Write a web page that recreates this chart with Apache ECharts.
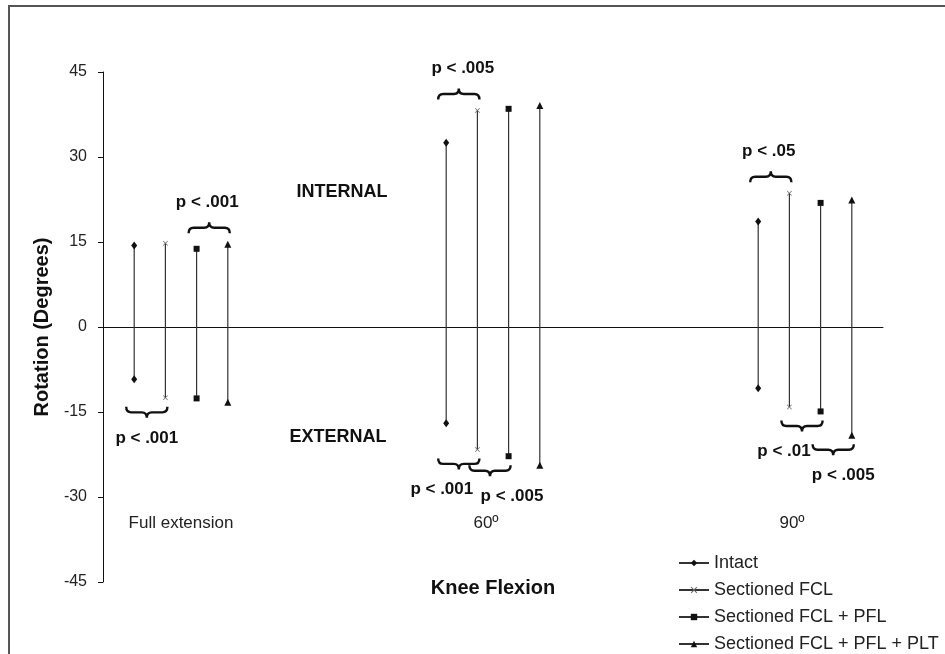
<!DOCTYPE html>
<html>
<head>
<meta charset="utf-8">
<script src="https://cdn.jsdelivr.net/npm/echarts@6/dist/echarts.min.js"></script>
<style>
html,body{margin:0;padding:0;background:#fff;}
#c{width:945px;height:654px;}
</style>
</head>
<body>
<div id="c"></div>
<script>
// ---------------- DATA ----------------
const categories = ['Full extension', '60º', '90º'];
const seriesNames = ['Intact', 'Sectioned FCL', 'Sectioned FCL + PFL', 'Sectioned FCL + PFL + PLT'];
const yTicks = [-45, -30, -15, 0, 15, 30, 45];

// internal (positive) and external (negative) rotation, degrees
const intactHigh = [14.4, 32.5, 18.6];
const intactLow  = [-9.2, -17.0, -10.8];
const fclHigh    = [14.8, 38.2, 23.6];
const fclLow     = [-12.5, -21.6, -14.1];
const pflHigh    = [13.8, 38.5, 21.9];
const pflLow     = [-12.6, -22.8, -14.9];
const pltHigh    = [14.6, 39.1, 22.4];
const pltLow     = [-13.3, -24.4, -19.1];

// significance brackets: group index, pair of series indices, side, label
const annGroup = [0, 0, 1, 1, 1, 2, 2, 2];
const annFrom  = [2, 0, 0, 0, 1, 0, 1, 2];
const annTo    = [3, 1, 1, 1, 2, 1, 2, 3];
const annSide  = ['top', 'bottom', 'top', 'bottom', 'bottom', 'top', 'bottom', 'bottom'];
const annText  = ['p < .001', 'p < .001', 'p < .005', 'p < .001', 'p < .005', 'p < .05', 'p < .01', 'p < .005'];

const regionLabels = ['INTERNAL', 'EXTERNAL'];

// ---------------- LAYOUT / STYLE ----------------
const annLabelShift = [-2, 0, 4, -17, 22, -2, -18, 10]; // px, keeps neighbouring labels apart
const catLabelPadRight = [0, 14, 26];                   // px, nudges category labels
const highs = [intactHigh, fclHigh, pflHigh, pltHigh];
const lows  = [intactLow, fclLow, pflLow, pltLow];
const FONT = '"Liberation Sans", Arial, Helvetica, sans-serif';
const BAR_STEP = 0.1;  // distance between the four ranges of a group (group units)
const X_MIN = -0.25, X_MAX = 2.25;
const symbols = [
  'diamond',
  'path://M0,1L1,0L5,4L9,0L10,1L6,5L10,9L9,10L5,6L1,10L0,9L4,5Z',
  'rect',
  'triangle'
];
const symbolSizes = [[6, 8], 5, 6, 7];
const markerColors = ['#111', '#666', '#111', '#111'];

function xOf(g, s) { return g + (s - 1.5) * BAR_STEP; }

const chart = echarts.init(document.getElementById('c'), null, { renderer: 'canvas' });

const lineSeries = seriesNames.map(function (name, s) {
  const data = [];
  for (let g = 0; g < categories.length; g++) {
    data.push([xOf(g, s), highs[s][g]]);
    data.push([xOf(g, s), lows[s][g]]);
    data.push([xOf(g, s), '-']);
  }
  return {
    type: 'line',
    name: name,
    data: data,
    xAxisIndex: 0,
    symbol: symbols[s],
    symbolSize: symbolSizes[s],
    showSymbol: true,
    showAllSymbol: true,
    connectNulls: false,
    color: '#222',
    lineStyle: { color: '#333', width: 1.2 },
    itemStyle: { color: markerColors[s] },
    emphasis: { disabled: true },
    z: 3
  };
});

const annotationSeries = {
  type: 'custom',
  name: 'annotations',
  xAxisIndex: 0,
  silent: true,
  z: 5,
  data: annGroup.map(function (g, i) { return [g, 0, i]; }),
  renderItem: function (params, api) {
    const i = params.dataIndex;
    const g = annGroup[i], a = annFrom[i], b = annTo[i];
    const top = annSide[i] === 'top';
    const dir = top ? -1 : 1;
    const xa = api.coord([xOf(g, a), 0])[0];
    const xb = api.coord([xOf(g, b), 0])[0];
    const vals = top ? [highs[a][g], highs[b][g]] : [lows[a][g], lows[b][g]];
    const ext = top ? Math.max(vals[0], vals[1]) : Math.min(vals[0], vals[1]);
    const yExt = api.coord([0, ext])[1];
    const gap = top ? 11 : 9;
    const H = 11;
    const y0 = yExt + dir * gap;
    const ym = y0 + dir * H / 2;
    const yc = y0 + dir * H;
    const xL = xa - 8, xR = xb + 2, xm = (xL + xR) / 2, r = 5;
    const d = 'M' + xL + ',' + y0 +
      ' Q' + xL + ',' + ym + ' ' + (xL + r) + ',' + ym +
      ' L' + (xm - r) + ',' + ym +
      ' Q' + xm + ',' + ym + ' ' + xm + ',' + yc +
      ' Q' + xm + ',' + ym + ' ' + (xm + r) + ',' + ym +
      ' L' + (xR - r) + ',' + ym +
      ' Q' + xR + ',' + ym + ' ' + xR + ',' + y0;
    return {
      type: 'group',
      children: [
        {
          type: 'path',
          shape: { pathData: d },
          style: { stroke: '#111', lineWidth: 2.4, fill: null }
        },
        {
          type: 'text',
          style: {
            text: annText[i],
            x: xm + annLabelShift[i],
            y: yc + dir * 20,
            align: 'center',
            verticalAlign: 'middle',
            font: 'bold 17px ' + FONT,
            fill: '#111'
          }
        }
      ]
    };
  }
};

const catRich = {};
categories.forEach(function (c, i) {
  catRich['c' + i] = { padding: [0, catLabelPadRight[i], 0, 0], fontFamily: FONT, fontSize: 17, color: '#222' };
});

const option = {
  backgroundColor: '#fff',
  animation: false,
  grid: { left: 103, right: 62, top: 72, bottom: 72, containLabel: false, outerBoundsMode: 'none' },
  xAxis: [
    {
      type: 'value',
      min: X_MIN,
      max: X_MAX,
      position: 'bottom',
      axisLine: { show: true, onZero: true, lineStyle: { color: '#111', width: 1 } },
      axisTick: { show: false },
      axisLabel: { show: false },
      splitLine: { show: false }
    },
    {
      type: 'value',
      min: X_MIN,
      max: X_MAX,
      position: 'bottom',
      offset: -75,
      axisLine: { show: false, onZero: false },
      axisTick: { show: false },
      splitLine: { show: false },
      axisLabel: {
        show: true,
        customValues: categories.map(function (c, i) { return i; }),
        formatter: function (v) {
          const i = Math.round(v);
          return categories[i] ? '{c' + i + '|' + categories[i] + '}' : '';
        },
        rich: catRich,
        margin: 8,
        fontFamily: FONT,
        fontSize: 17,
        color: '#222'
      },
      name: 'Knee Flexion',
      nameLocation: 'middle',
      nameGap: 71,
      nameTextStyle: { fontFamily: FONT, fontSize: 20, fontWeight: 'bold', color: '#111' }
    }
  ],
  yAxis: {
    type: 'value',
    min: yTicks[0],
    max: yTicks[yTicks.length - 1],
    interval: yTicks[1] - yTicks[0],
    axisLine: { show: true, onZero: false, lineStyle: { color: '#111', width: 1 } },
    axisTick: { show: true, inside: false, length: 5, lineStyle: { color: '#111' } },
    axisLabel: { margin: 16, fontFamily: FONT, fontSize: 16, color: '#222' },
    splitLine: { show: false },
    name: 'Rotation (Degrees)',
    nameLocation: 'middle',
    nameRotate: 90,
    nameGap: 51,
    nameTextStyle: { fontFamily: FONT, fontSize: 20, fontWeight: 'bold', color: '#111' }
  },
  legend: {
    data: seriesNames,
    orient: 'vertical',
    left: 678,
    top: 554,
    height: 200,
    padding: 0,
    itemWidth: 30,
    itemHeight: 8,
    itemGap: 9,
    selectedMode: false,
    textStyle: { fontFamily: FONT, fontSize: 18, color: '#222' }
  },
  graphic: [
    {
      type: 'rect',
      shape: { x: 9, y: 6, width: 1000, height: 1000 },
      style: { fill: null, stroke: '#555', lineWidth: 2 },
      silent: true
    },
    {
      type: 'text',
      style: { text: regionLabels[0], x: 342, y: 192, align: 'center', verticalAlign: 'middle',
               font: 'bold 18px ' + FONT, fill: '#111' },
      silent: true
    },
    {
      type: 'text',
      style: { text: regionLabels[1], x: 338, y: 437, align: 'center', verticalAlign: 'middle',
               font: 'bold 18px ' + FONT, fill: '#111' },
      silent: true
    }
  ],
  series: lineSeries.concat([annotationSeries])
};

chart.setOption(option);
</script>
</body>
</html>
